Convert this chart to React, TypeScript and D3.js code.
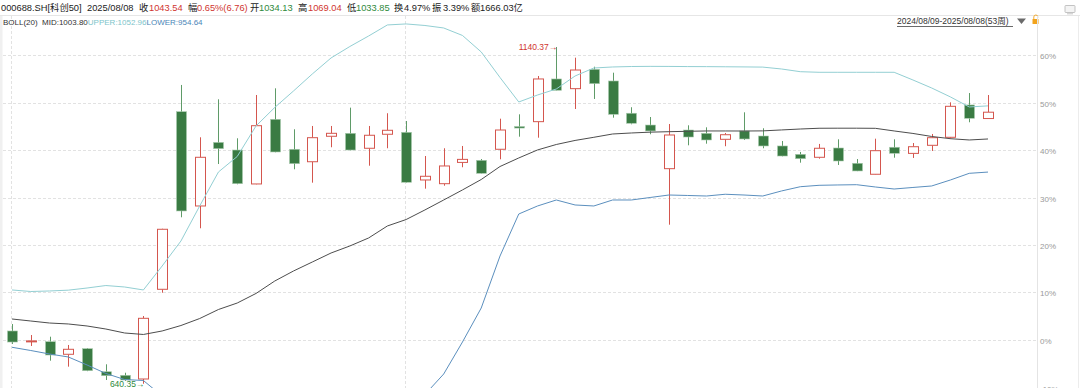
import React from 'react';
import * as d3 from 'd3';

const BASE = 705.3;

const weeks = [
  '2024-08-09', '2024-08-16', '2024-08-23', '2024-08-30', '2024-09-06', '2024-09-13', '2024-09-20', '2024-09-27',
  '2024-10-04', '2024-10-11', '2024-10-18', '2024-10-25', '2024-11-01', '2024-11-08', '2024-11-15', '2024-11-22',
  '2024-11-29', '2024-12-06', '2024-12-13', '2024-12-20', '2024-12-27', '2025-01-03', '2025-01-10', '2025-01-17',
  '2025-01-24', '2025-01-31', '2025-02-07', '2025-02-14', '2025-02-21', '2025-02-28', '2025-03-07', '2025-03-14',
  '2025-03-21', '2025-03-28', '2025-04-04', '2025-04-11', '2025-04-18', '2025-04-25', '2025-05-02', '2025-05-09',
  '2025-05-16', '2025-05-23', '2025-05-30', '2025-06-06', '2025-06-13', '2025-06-20', '2025-06-27', '2025-07-04',
  '2025-07-11', '2025-07-18', '2025-07-25', '2025-08-01', '2025-08-08',
];

const openP = [718.7, 703.5, 702.8, 684.1, 692.4, 658.2, 652.9, 647.4, 780.6, 1044.3, 904.3, 998.7, 987.4, 937.0, 1033.0, 988.5, 970.0, 1007.8, 1012.2, 990.0, 1010.8, 1013.7, 942.9, 937.4, 969.0, 972.1, 988.5, 1022.3, 1029.5, 1092.9, 1078.5, 1107.2, 1089.9, 1042.0, 1024.5, 959.7, 1017.1, 1012.2, 1003.3, 1015.7, 1008.2, 993.4, 981.0, 976.6, 990.4, 967.7, 951.4, 991.5, 982.4, 994.4, 1006.3, 1054.3, 1034.13];
const highP = [729.0, 712.7, 710.2, 697.9, 693.4, 669.2, 656.7, 740.9, 870.5, 1084.0, 1006.3, 1062.7, 1004.8, 1069.1, 1079.0, 1018.2, 1023.1, 1023.1, 1050.3, 1023.1, 1042.0, 1030.5, 978.5, 990.0, 993.4, 974.0, 1033.9, 1040.4, 1097.3, 1140.37, 1124.5, 1111.1, 1102.2, 1050.9, 1036.4, 1026.0, 1024.1, 1021.1, 1012.7, 1043.4, 1019.7, 1000.8, 984.5, 996.4, 1003.3, 974.0, 1004.2, 1003.3, 997.8, 1011.2, 1058.2, 1072.0, 1069.04];
const lowP = [699.4, 696.4, 674.6, 665.7, 659.0, 645.9, 644.4, 640.35, 775.5, 887.5, 871.2, 966.6, 936.5, 936.5, 984.0, 958.8, 938.9, 991.5, 987.0, 964.1, 990.0, 939.0, 930.0, 934.4, 961.8, 952.5, 973.6, 1007.2, 1005.7, 1075.8, 1048.3, 1063.2, 1035.4, 1025.6, 1010.8, 876.5, 994.4, 996.8, 993.0, 1002.3, 990.0, 978.0, 968.6, 974.5, 965.2, 956.0, 951.0, 976.0, 975.6, 986.0, 1004.2, 1028.6, 1033.85];
const closeP = [702.3, 704.0, 683.0, 691.5, 659.7, 652.3, 645.9, 737.5, 869.7, 896.9, 976.6, 989.4, 937.4, 1023.5, 984.5, 967.1, 1005.7, 1012.2, 987.4, 1009.3, 1016.7, 939.5, 948.4, 963.7, 973.5, 952.8, 1017.1, 1020.0, 1092.9, 1076.1, 1106.2, 1085.9, 1040.4, 1027.1, 1015.7, 1009.7, 1006.7, 1002.3, 1010.1, 1003.8, 993.4, 978.5, 974.5, 990.0, 971.1, 956.3, 986.4, 982.5, 992.3, 1005.7, 1052.3, 1034.5, 1043.54];

const bollUpper = [779.6, 777.3, 778.1, 779.3, 782.5, 786.2, 784.0, 779.6, 815.2, 852.3, 904.3, 954.8, 977.8, 1023.1, 1050.6, 1075.1, 1100.3, 1124.1, 1141.1, 1156.7, 1173.1, 1174.6, 1172.3, 1168.6, 1157.5, 1133.0, 1095.1, 1058.7, 1069.1, 1078.0, 1097.3, 1109.2, 1110.7, 1111.4, 1111.6, 1111.5, 1111.3, 1111.2, 1111.0, 1110.8, 1110.5, 1107.7, 1103.7, 1102.8, 1102.8, 1102.8, 1102.8, 1102.8, 1091.4, 1079.5, 1066.2, 1051.3, 1052.96];
const bollMid = [736.5, 733.5, 730.5, 729.1, 726.1, 721.6, 715.7, 713.5, 718.7, 726.8, 737.2, 750.6, 760.2, 774.4, 792.9, 807.8, 821.1, 834.5, 844.9, 856.8, 874.6, 884.2, 898.4, 913.2, 928.1, 943.6, 962.9, 975.6, 987.5, 995.6, 1001.6, 1006.3, 1011.2, 1012.7, 1013.9, 1014.6, 1015.2, 1015.7, 1015.7, 1015.6, 1015.8, 1017.2, 1018.6, 1019.7, 1019.8, 1019.8, 1019.6, 1015.7, 1012.0, 1007.5, 1004.2, 1002.3, 1003.80];
const bollLower = [694.5, 689.7, 684.5, 680.1, 668.2, 655.6, 646.6, 645.2, 622.1, 601.3, 570.2, 546.4, 542.7, 525.6, 535.3, 540.5, 541.9, 544.9, 548.6, 556.8, 576.1, 593.9, 624.4, 654.8, 702.3, 752.8, 830.0, 892.4, 904.3, 913.2, 905.8, 904.3, 913.2, 913.2, 916.9, 920.6, 919.9, 919.1, 921.7, 920.6, 919.1, 926.6, 932.9, 935.0, 935.5, 935.9, 932.5, 929.5, 931.8, 934.0, 942.9, 952.8, 954.64];

const pctTicks = [-10, 0, 10, 20, 30, 40, 50, 60];
const separatorWeeks = ['2024-08-09', '2025-01-03'];

const headerCode = '000688.SH[科创50]';
const headerDate = '2025/08/08';
const headerLabels = ['收', '幅', '开', '高', '低', '换', '振', '额'];
const headerValues = ['1043.54', '0.65%(6.76)', '1034.13', '1069.04', '1033.85', '4.97%', '3.39%', '1666.03亿'];
const bollLabel = 'BOLL(20)';
const bollTexts = ['MID:1003.80', 'UPPER:1052.96', 'LOWER:954.64'];
const rangeText = '2024/08/09-2025/08/08(53周)';
const maxLabel = '1140.37';
const minLabel = '640.35';

const RED = '#d4564e';
const RED_TXT = '#d0352f';
const GREEN = '#3a7b43';
const GREEN_WICK = '#5f9b68';
const GREEN_TXT = '#2f8a3c';
const FONT = '"Liberation Sans", Arial, "Noto Sans CJK SC", sans-serif';

const headerLayout = {
  code: 1, date: 87,
  labels: [139, 188, 250, 298, 347, 394, 432, 471],
  values: [149, 197, 259, 308, 356, 404, 443, 480],
  valueColors: [RED_TXT, RED_TXT, GREEN_TXT, RED_TXT, GREEN_TXT, '#222', '#222', '#222'],
  bollColors: ['#333', '#7cc4ca', '#4a86b8'],
};

export default function App() {
  const W = 1080;
  const H = 388;
  const plotRight = 1037;
  const plotTop = 15;

  const x = d3.scalePoint<string>().domain(weeks).range([12, 988]);
  const y = d3.scaleLinear().domain([BASE * 0.9, BASE * 1.6]).range([387.5, 55]);
  const lineGen = d3
    .line<number>()
    .x((_, i) => x(weeks[i]) as number)
    .y((d) => y(d));

  const bw = 10;
  const hiIdx = highP.indexOf(d3.max(highP) as number);
  const loIdx = lowP.indexOf(d3.min(lowP) as number);

  return (
    <svg
      width={W}
      height={H}
      style={{ position: 'fixed', left: 0, top: 0, background: '#fff', fontFamily: FONT }}
    >
      <defs>
        <clipPath id="plot">
          <rect x={0} y={plotTop} width={plotRight} height={H - plotTop} />
        </clipPath>
      </defs>
      <rect x={0} y={0} width={W} height={H} fill="#fff" />

      {/* header row 1 */}
      <g fontSize={9.3} fill="#222">
        <text x={headerLayout.code} y={10.5}>{headerCode}</text>
        <text x={headerLayout.date} y={10.5}>{headerDate}</text>
        {headerLabels.map((l, i) => (
          <g key={l}>
            <text x={headerLayout.labels[i]} y={10.5}>{l}</text>
            <text x={headerLayout.values[i]} y={10.5} fill={headerLayout.valueColors[i]}>
              {headerValues[i]}
            </text>
          </g>
        ))}
      </g>
      <line x1={0} x2={W} y1={15.5} y2={15.5} stroke="#e6e6e6" />

      {/* header row 2 */}
      <text x={3} y={24.5} fontSize={8}>
        <tspan fill="#333">{bollLabel}</tspan>
        <tspan x={42} fill={headerLayout.bollColors[0]}>{bollTexts[0]}</tspan>
        <tspan fill={headerLayout.bollColors[1]}>{bollTexts[1]}</tspan>
        <tspan fill={headerLayout.bollColors[2]}>{bollTexts[2]}</tspan>
      </text>

      {/* range selector */}
      <text x={897} y={24} fontSize={8.5} fill="#333">{rangeText}</text>
      <line x1={897} x2={1013} y1={26.5} y2={26.5} stroke="#444" strokeWidth={0.8} />
      <path d="M1017,18.5 L1026,18.5 L1021.5,24 Z" fill="#6a6a6a" />
      <rect x={1032.5} y={19} width={6} height={5} fill="#f2a31c" rx={0.5} />
      <path d="M1033.8,19 L1033.8,17 A2,2 0 0 1 1037.8,17 L1037.8,17.6" fill="none" stroke="#f2a31c" strokeWidth={0.9} />
      <rect x={1065} y={5.5} width={10} height={7} fill="#f4f4f4" stroke="#b5b5b5" strokeWidth={0.8} rx={0.8} />
      <line x1={1067} x2={1073} y1={13.8} y2={13.8} stroke="#b5b5b5" strokeWidth={0.8} />

      {/* left strip */}
      <rect x={0} y={plotTop + 1} width={2.5} height={H - plotTop} fill="#f0f0f0" />

      {/* grid */}
      {pctTicks.map((p) => {
        const yy = Math.round(y(BASE * (1 + p / 100))) + 0.5;
        return (
          <g key={p}>
            <line x1={3} x2={plotRight} y1={yy} y2={yy} stroke="#e2e2e2" strokeDasharray="3,2" />
            <text x={1040} y={yy + 3} fontSize={8} fill="#9a9a9a">{`${p}%`}</text>
          </g>
        );
      })}
      {separatorWeeks.map((w) => {
        const xx = Math.round(x(w) as number) - 0.5;
        return <line key={w} x1={xx} x2={xx} y1={plotTop + 1} y2={H} stroke="#e2e2e2" strokeDasharray="3,2" />;
      })}
      <line x1={plotRight + 0.5} x2={plotRight + 0.5} y1={plotTop + 1} y2={H} stroke="#e4e4e4" />
      <line x1={1078.5} x2={1078.5} y1={plotTop + 1} y2={H} stroke="#ececec" />

      <g clipPath="url(#plot)">
        {/* candles */}
        {weeks.map((w, i) => {
          const cx = Math.round(x(w) as number) + 0.5;
          const o = openP[i];
          const c = closeP[i];
          const up = c >= o;
          const top = y(Math.max(o, c));
          const bot = y(Math.min(o, c));
          const h = Math.max(1, bot - top);
          if (up) {
            return (
              <g key={w}>
                <line x1={cx} x2={cx} y1={y(highP[i])} y2={top} stroke={RED} />
                <line x1={cx} x2={cx} y1={top + h} y2={y(lowP[i])} stroke={RED} />
                <rect x={cx - bw / 2} y={top} width={bw} height={h} fill="#fff" stroke={RED} strokeWidth={1} />
              </g>
            );
          }
          return (
            <g key={w}>
              <line x1={cx} x2={cx} y1={y(highP[i])} y2={y(lowP[i])} stroke={GREEN_WICK} />
              <rect x={cx - bw / 2} y={top} width={bw} height={h} fill={GREEN} stroke="#a9cbae" strokeWidth={0.6} />
            </g>
          );
        })}

        {/* bollinger */}
        <path d={lineGen(bollUpper) ?? ''} fill="none" stroke="#93cfd3" strokeWidth={1} />
        <path d={lineGen(bollMid) ?? ''} fill="none" stroke="#4d4d4d" strokeWidth={1} />
        <path d={lineGen(bollLower) ?? ''} fill="none" stroke="#5b8fbe" strokeWidth={1} />
      </g>

      {/* extreme labels */}
      <text
        x={(x(weeks[hiIdx]) as number) + 1}
        y={y(highP[hiIdx]) + 3}
        fontSize={8.5}
        fill={RED_TXT}
        textAnchor="end"
      >
        {`${maxLabel}→`}
      </text>
      <text
        x={(x(weeks[loIdx]) as number) + 1}
        y={y(lowP[loIdx]) + 3.5}
        fontSize={8.5}
        fill={GREEN_TXT}
        textAnchor="end"
      >
        {`${minLabel}→`}
      </text>
    </svg>
  );
}
